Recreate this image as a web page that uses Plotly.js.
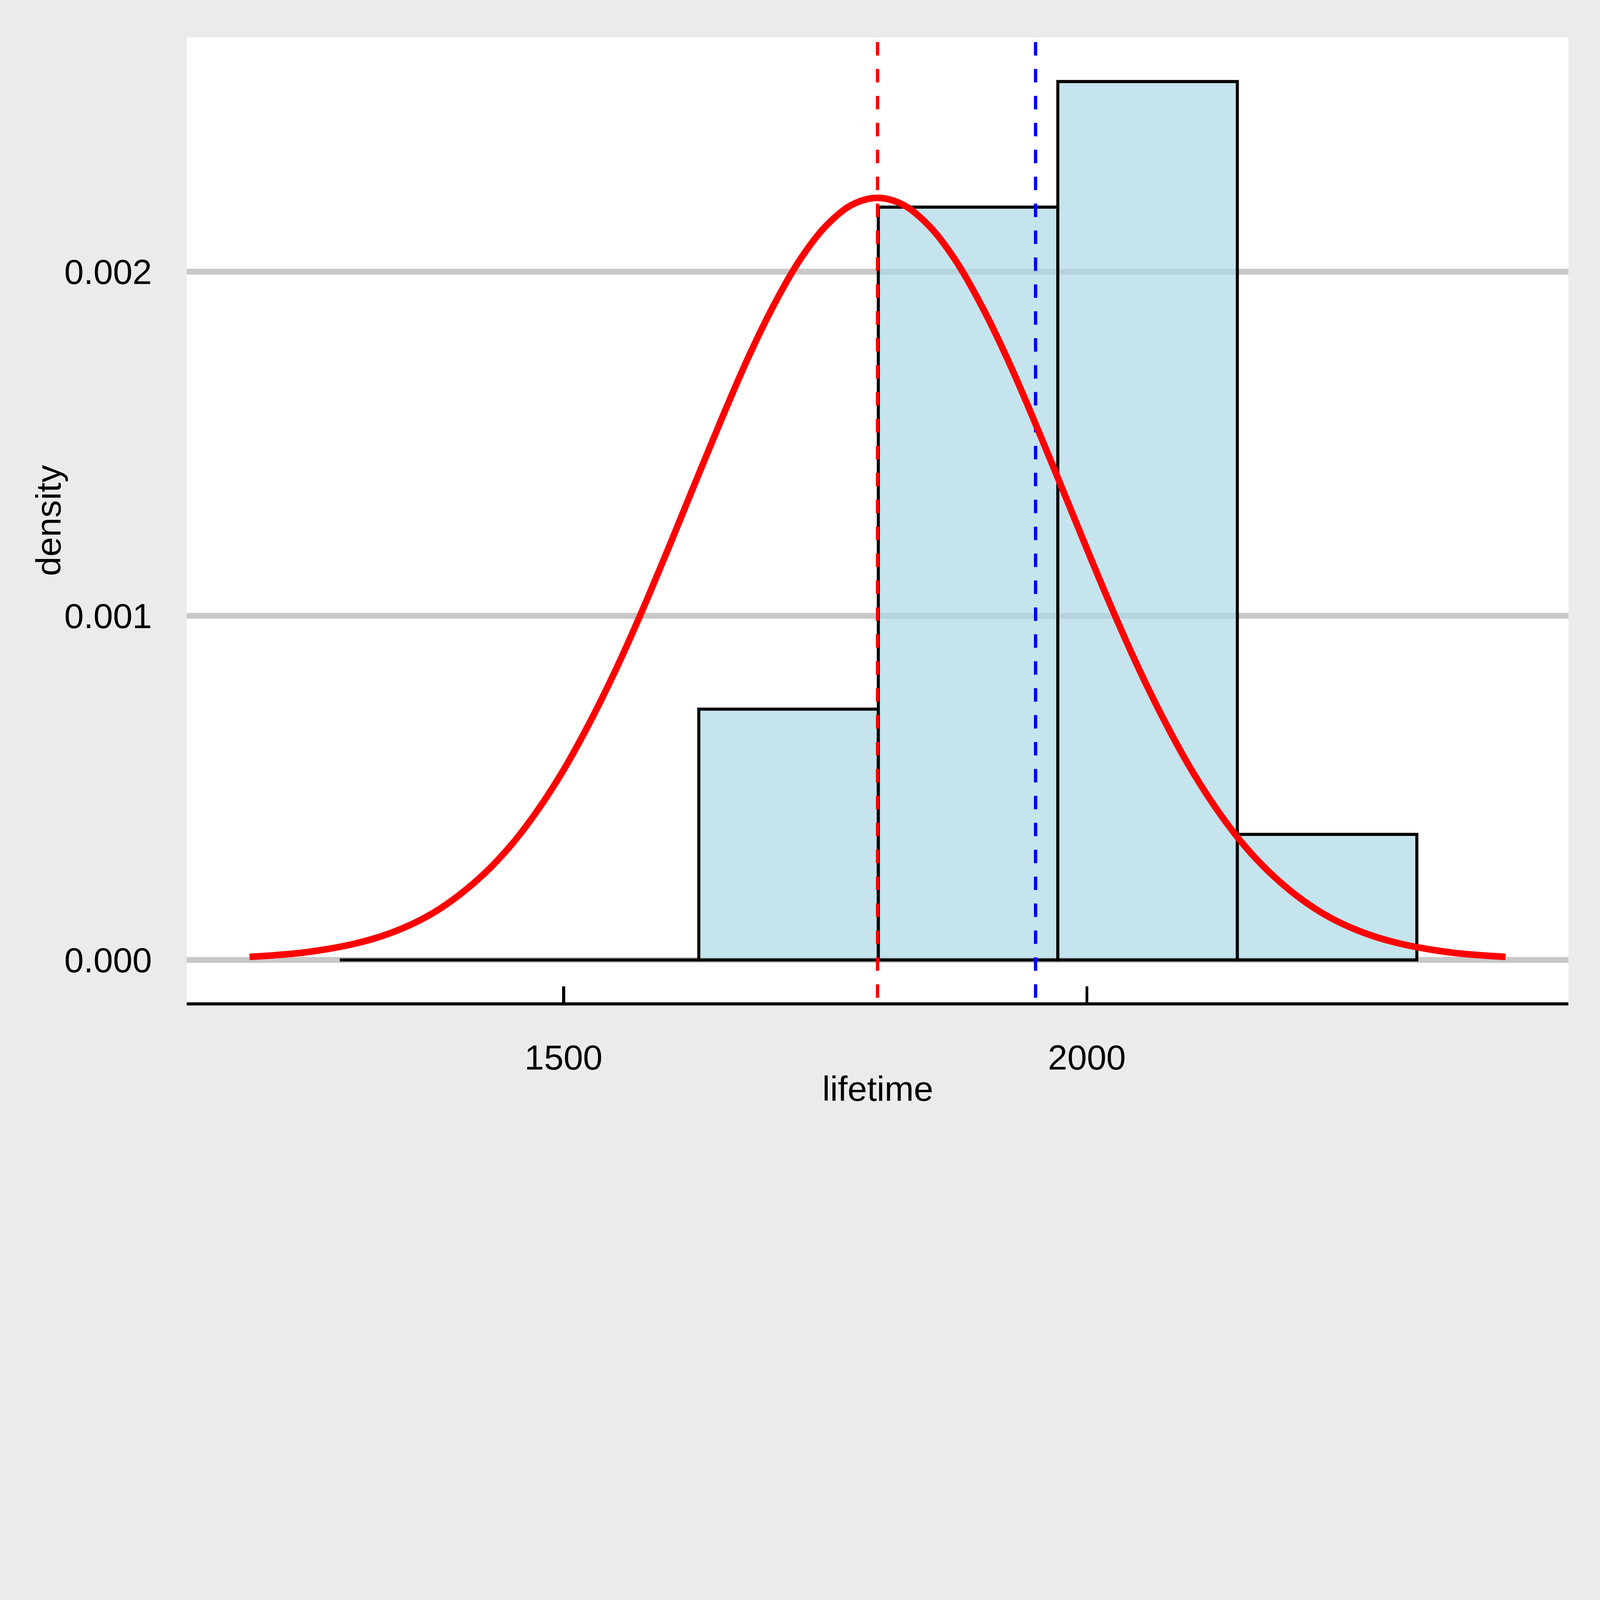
<!DOCTYPE html>
<html>
<head>
<meta charset="utf-8">
<script src="https://cdn.plot.ly/plotly-3.0.1.min.js"></script>
<style>
  html, body { margin: 0; padding: 0; background: #ebebeb; overflow: hidden; }
</style>
</head>
<body>
<div id="chart"></div>
<script>
// histogram of the lifetimes (density scale), bin width ~171.5
let binCenters = [1372, 1543.5, 1715, 1886.5, 2058, 2229.5];
let binWidth = 171.5;
let densities = [0, 0, 0.000729, 0.002188, 0.002553, 0.000365];

// fitted normal curve, every 25 units
let curveX = [1200, 1225, 1250, 1275, 1300, 1325, 1350, 1375, 1400, 1425, 1450, 1475, 1500,
              1525, 1550, 1575, 1600, 1625, 1650, 1675, 1700, 1725, 1750, 1775, 1800,
              1825, 1850, 1875, 1900, 1925, 1950, 1975, 2000, 2025, 2050, 2075, 2100,
              2125, 2150, 2175, 2200, 2225, 2250, 2275, 2300, 2325, 2350, 2375, 2400];
let curveY = [0.000009, 0.000014, 0.000021, 0.000032, 0.000047, 0.000068, 0.000097, 0.000136,
              0.000188, 0.000253, 0.000334, 0.000434, 0.000552, 0.000690, 0.000844, 0.001014,
              0.001195, 0.001381, 0.001565, 0.001741, 0.001898, 0.002031, 0.002131, 0.002194,
              0.002215,
              0.002194, 0.002131, 0.002031, 0.001898, 0.001741, 0.001565, 0.001381, 0.001195,
              0.001014, 0.000844, 0.000690, 0.000552, 0.000434, 0.000334, 0.000253, 0.000188,
              0.000136, 0.000097, 0.000068, 0.000047, 0.000032, 0.000021, 0.000014, 0.000009];

let meanLife = 1800;
let medianLife = 1951;

let xTicks = [1500, 2000];
let yTicks = [0, 0.001, 0.002];
let yTickText = ['0.000', '0.001', '0.002'];

let xRange = [1140, 2460];
let yRange = [-0.0001277, 0.002681];

let fontFamily = '"Liberation Sans", Arial, Helvetica, sans-serif';

// design is 6300 x 4500; scale to whatever the window really is
let W = window.innerWidth || 6300;
let H = window.innerHeight || 4500;
let k = Math.min(W / 6300, H / 4500);
function s(v) { return v * k; }
function si(v) { return Math.round(v * k); }

let chartDiv = document.getElementById('chart');
chartDiv.style.width = s(6300) + 'px';
chartDiv.style.height = s(4500) + 'px';

// dashed lines start a little above the panel so the dash phase matches
let dashTop = yRange[1] + 0.000065;

function vline(x, color) {
    return {
        x: [x, x],
        y: [dashTop, yRange[0]],
        type: 'scatter',
        mode: 'lines',
        line: { color: color, width: s(13), dash: s(53) + 'px,' + s(53) + 'px' },
        hoverinfo: 'skip'
    };
}

var data = [
    {
        x: binCenters,
        y: densities,
        width: binCenters.map(function () { return binWidth; }),
        type: 'bar',
        marker: {
            color: 'rgba(173, 216, 230, 0.7)',
            line: { color: 'black', width: s(12) }
        }
    },
    vline(meanLife, '#ff0000'),
    vline(medianLife, '#0000ff'),
    {
        x: curveX,
        y: curveY,
        type: 'scatter',
        mode: 'lines',
        line: { color: '#ff0000', width: s(26), shape: 'spline', smoothing: 1 }
    }
];

let tickFont = { family: fontFamily, size: s(138), color: 'black' };

var layout = {
    width: s(6300),
    height: s(4500),
    showlegend: false,
    paper_bgcolor: '#ebebeb',
    plot_bgcolor: '#ffffff',
    bargap: 0,
    margin: { l: s(735), r: s(124), t: s(148), b: s(547), pad: 0 },
    font: tickFont,
    xaxis: {
        range: xRange,
        tickvals: xTicks,
        ticktext: xTicks.map(String),
        ticks: 'inside',
        ticklen: s(69),
        tickwidth: s(12),
        tickcolor: 'black',
        ticklabelstandoff: si(118),
        showline: false,
        showgrid: false,
        zeroline: false,
        tickfont: tickFont
    },
    yaxis: {
        range: yRange,
        tickvals: yTicks,
        ticktext: yTickText,
        ticks: '',
        ticklabelstandoff: si(135),
        showline: false,
        showgrid: true,
        gridcolor: '#c8c8c8',
        gridwidth: s(23),
        zeroline: true,
        zerolinecolor: '#c8c8c8',
        zerolinewidth: s(23),
        tickfont: tickFont
    },
    shapes: [
        {
            // bottom axis line, centred on the panel edge
            type: 'line',
            xref: 'paper', yref: 'paper',
            x0: 0, x1: 1, y0: 0, y1: 0,
            line: { color: 'black', width: s(12) }
        }
    ],
    annotations: [
        {
            text: 'lifetime',
            xref: 'paper', yref: 'paper',
            x: 0.5, y: 0,
            xanchor: 'center', yanchor: 'middle',
            yshift: -s(334),
            showarrow: false,
            font: tickFont
        },
        {
            text: 'density',
            xref: 'paper', yref: 'paper',
            x: 0, y: 0.5,
            xanchor: 'center', yanchor: 'middle',
            xshift: -s(545),
            textangle: -90,
            showarrow: false,
            font: tickFont
        }
    ]
};

Plotly.newPlot(chartDiv, data, layout, { staticPlot: true });
</script>
</body>
</html>
